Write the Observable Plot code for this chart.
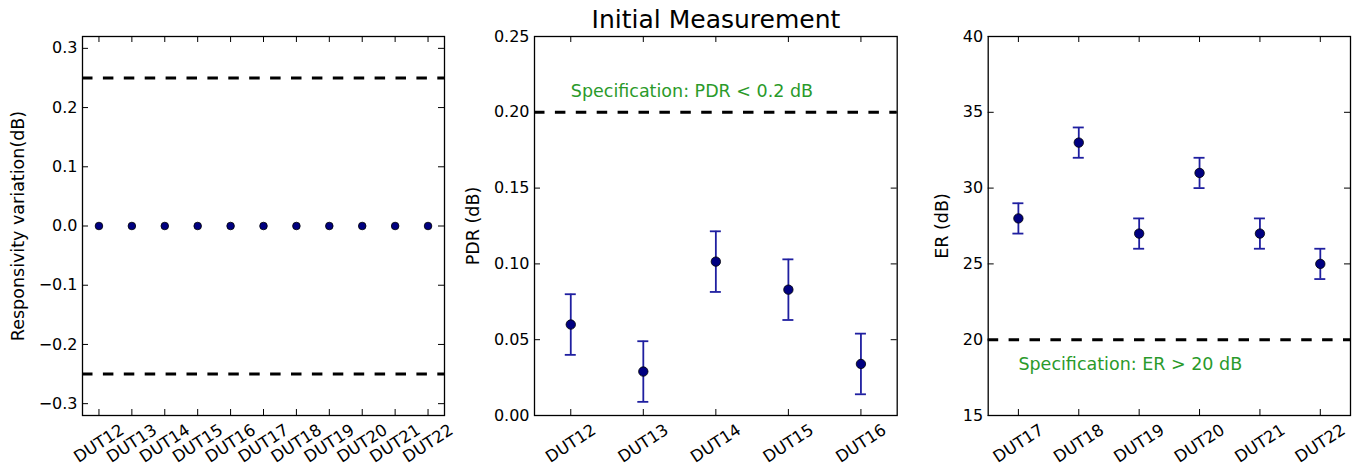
<!DOCTYPE html>
<html><head><meta charset="utf-8">
<script src="https://cdn.jsdelivr.net/npm/d3@7"></script>
<script src="https://cdn.jsdelivr.net/npm/@observablehq/plot@0.6"></script>
<style>
body{margin:0;background:#fff;font-family:"DejaVu Sans",sans-serif;}
#wrap{position:relative;width:1363px;height:470px;overflow:hidden;}
#wrap svg{position:absolute;top:0;}
#title{position:absolute;top:7px;left:534px;width:364px;text-align:center;font-size:25px;line-height:1;color:#000;font-family:"DejaVu Sans";}
</style></head><body>
<div id="wrap"><div id="title"></div></div>
<script>
// ---- Panel 1: responsivity variation ----
const respDUTs = ["DUT12","DUT13","DUT14","DUT15","DUT16","DUT17","DUT18","DUT19","DUT20","DUT21","DUT22"];
const respValues = [0,0,0,0,0,0,0,0,0,0,0];
const respLimits = [0.25,-0.25];
const respTicks = [-0.3,-0.2,-0.1,0,0.1,0.2,0.3];
const respDomain = [-0.32,0.32];
const respLabel = "Responsivity variation(dB)";

// ---- Panel 2: PDR ----
const pdrDUTs = ["DUT12","DUT13","DUT14","DUT15","DUT16"];
const pdrValues = [0.060,0.029,0.1015,0.083,0.034];
const pdrErrors = [0.02,0.02,0.02,0.02,0.02];
const pdrLimits = [0.2];
const pdrTicks = [0,0.05,0.10,0.15,0.20,0.25];
const pdrDomain = [0,0.25];
const pdrLabel = "PDR (dB)";
const pdrSpecText = "Specification: PDR < 0.2 dB";
const pdrSpecY = 0.21;

// ---- Panel 3: ER ----
const erDUTs = ["DUT17","DUT18","DUT19","DUT20","DUT21","DUT22"];
const erValues = [28,33,27,31,27,25];
const erErrors = [1,1,1,1,1,1];
const erLimits = [20];
const erTicks = [15,20,25,30,35,40];
const erDomain = [15,40];
const erLabel = "ER (dB)";
const erSpecText = "Specification: ER > 20 dB";
const erSpecY = 18;

const titleText = "Initial Measurement";
document.getElementById("title").textContent = titleText;

const GREEN = "#2a9a2a";
const EBAR = "#1f1fa0";
const YTICK_FS = 16;
const XTICK_FS = 16.5;
const LABEL_FS = 17.5;
const SPEC_FS = 17.5;

function panel(o) {
  const H = 470, mT = 36, mB = 55;
  const iw = o.width - o.mL - o.mR, ih = H - mT - mB;
  const tk = 6;
  const rows = o.cats.map((c, i) => ({
    dut: c, value: o.values[i],
    lo: o.errors ? o.values[i] - o.errors[i] : null,
    hi: o.errors ? o.values[i] + o.errors[i] : null
  }));
  const marks = [
    Plot.ruleY(o.limits, {stroke: "black", strokeWidth: 3, strokeDasharray: "10.5,10.4"})
  ];
  if (o.errors) {
    marks.push(
      Plot.ruleX(rows, {x: "dut", y1: "lo", y2: "hi", stroke: EBAR, strokeWidth: 1.8}),
      Plot.ruleY(rows, {x1: "dut", x2: "dut", y: "lo", stroke: EBAR, strokeWidth: 1.8, insetLeft: -5.5, insetRight: -5.5}),
      Plot.ruleY(rows, {x1: "dut", x2: "dut", y: "hi", stroke: EBAR, strokeWidth: 1.8, insetLeft: -5.5, insetRight: -5.5})
    );
  }
  marks.push(
    Plot.dot(rows, {x: "dut", y: "value", r: o.r, fill: "#000080", stroke: "black", strokeWidth: 0.8}),
    Plot.tickY(o.ticks, {y: d => d, insetRight: iw - tk, stroke: "black", strokeWidth: 1}),
    Plot.tickY(o.ticks, {y: d => d, insetLeft: iw - tk, stroke: "black", strokeWidth: 1}),
    Plot.tickX(o.cats, {x: d => d, insetTop: ih - tk, stroke: "black", strokeWidth: 1}),
    Plot.tickX(o.cats, {x: d => d, insetBottom: ih - tk, stroke: "black", strokeWidth: 1}),
    Plot.frame({stroke: "black", strokeWidth: 1.3}),
    Plot.axisY(o.ticks, {tickSize: 0, tickPadding: 5, tickFormat: d3.format(o.fmt), fontSize: YTICK_FS, label: null}),
    Plot.text(o.cats, {x: d => d, frameAnchor: "bottom", dy: 28, rotate: -33, textAnchor: "middle", lineAnchor: "middle", fontSize: XTICK_FS, fill: "black"}),
    Plot.text([o.label], {frameAnchor: "left", dx: o.labelDx, rotate: -90, textAnchor: "middle", lineAnchor: "middle", fontSize: LABEL_FS, fill: "black"})
  );
  if (o.spec) {
    marks.push(Plot.text([{t: o.spec, x: o.cats[0], y: o.specY}],
      {x: "x", y: "y", text: "t", textAnchor: "start", lineAnchor: "bottom", fill: GREEN, fontSize: SPEC_FS}));
  }
  const svg = Plot.plot({
    width: o.width, height: H,
    marginTop: mT, marginBottom: mB, marginLeft: o.mL, marginRight: o.mR,
    style: {fontFamily: "DejaVu Sans", background: "transparent", overflow: "visible"},
    x: {type: "point", domain: o.cats, padding: 0.5, round: false, axis: null},
    y: {domain: o.domain, nice: false},
    marks
  });
  svg.style.left = o.left + "px";
  document.getElementById("wrap").append(svg);
}

panel({left: 0, width: 460, mL: 82, mR: 16, cats: respDUTs, values: respValues, errors: null,
  limits: respLimits, ticks: respTicks, domain: respDomain, fmt: ".1f", label: respLabel, labelDx: -64, r: 3.8});
panel({left: 460, width: 450, mL: 74, mR: 13.3, cats: pdrDUTs, values: pdrValues, errors: pdrErrors,
  limits: pdrLimits, ticks: pdrTicks, domain: pdrDomain, fmt: ".2f", label: pdrLabel, labelDx: -61, r: 4.7,
  spec: pdrSpecText, specY: pdrSpecY});
panel({left: 910, width: 453, mL: 77.7, mR: 13, cats: erDUTs, values: erValues, errors: erErrors,
  limits: erLimits, ticks: erTicks, domain: erDomain, fmt: "d", label: erLabel, labelDx: -46, r: 4.7,
  spec: erSpecText, specY: erSpecY});
</script>
</body></html>
